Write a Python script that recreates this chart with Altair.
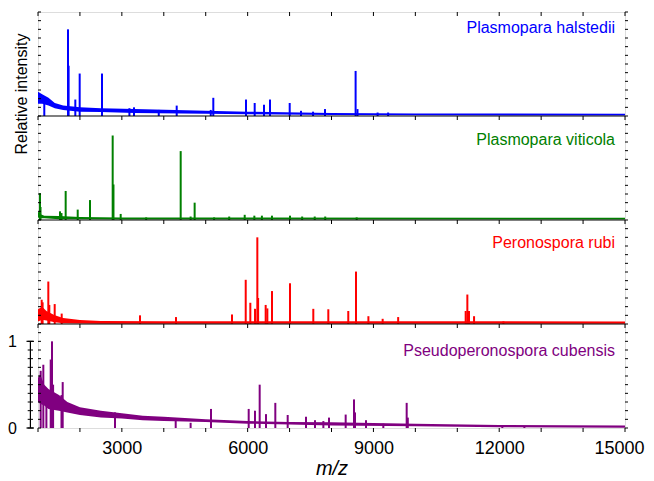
import altair as alt
import pandas as pd

# ---------------- data ----------------
species = ["Plasmopara halstedii", "Plasmopara viticola",
           "Peronospora rubi", "Pseudoperonospora cubensis"]
colors = ["#0000ff", "#008000", "#ff0000", "#800080"]

# baseline noise band: m/z, lower edge, upper edge (relative intensity)
ph_base_mz = [1000, 1100, 1250, 1400, 1600, 2000, 2500, 3300, 5000, 6000, 8000, 10000, 15000]
ph_base_lo = [0.14, 0.14, 0.12, 0.09, 0.07, 0.05, 0.045, 0.035, 0.025, 0.02, 0.012, 0.008, 0.005]
ph_base_hi = [0.28, 0.25, 0.21, 0.15, 0.12, 0.10, 0.09, 0.08, 0.06, 0.05, 0.035, 0.03, 0.025]

pv_base_mz = [1000, 1050, 1150, 1500, 2000, 3000, 5000, 15000]
pv_base_lo = [0.03, 0.02, 0.02, 0.01, 0.008, 0.005, 0.005, 0.005]
pv_base_hi = [0.10, 0.07, 0.05, 0.045, 0.035, 0.03, 0.028, 0.025]

pr_base_mz = [1000, 1100, 1200, 1400, 1600, 2000, 2500, 4000, 8000, 15000]
pr_base_lo = [0.03, 0.05, 0.04, 0.02, 0.01, 0.005, 0.003, 0.003, 0.003, 0.003]
pr_base_hi = [0.17, 0.20, 0.15, 0.10, 0.07, 0.045, 0.035, 0.033, 0.033, 0.03]

pc_base_mz = [1000, 1050, 1150, 1250, 1500, 1700, 2000, 2500, 3000, 3500, 4000, 5000,
              6000, 7000, 8000, 10000, 12000, 15000]
pc_base_lo = [0.30, 0.28, 0.26, 0.22, 0.20, 0.18, 0.15, 0.12, 0.11, 0.09, 0.08, 0.07,
              0.05, 0.04, 0.03, 0.02, 0.01, 0.003]
pc_base_hi = [0.58, 0.62, 0.50, 0.45, 0.38, 0.30, 0.24, 0.20, 0.17, 0.14, 0.13, 0.10,
              0.08, 0.07, 0.065, 0.05, 0.035, 0.028]

# peaks: m/z and relative intensity
ph_peak_mz = [1150, 1715, 1730, 1890, 1994, 2526, 3180, 3290, 3880, 4308, 5120, 5181,
              5961, 6168, 6390, 6533, 7003, 7272, 7560, 7845, 8575, 8620, 9100, 9350]
ph_peak_h = [0.22, 1.00, 0.58, 0.19, 0.49, 0.49, 0.09, 0.10, 0.07, 0.12, 0.07, 0.21,
             0.19, 0.15, 0.13, 0.19, 0.15, 0.06, 0.05, 0.08, 0.52, 0.08, 0.04, 0.04]

pv_peak_mz = [1048, 1060, 1525, 1560, 1660, 1947, 2240, 2781, 2800, 2972, 3580, 4403,
              4640, 4736, 5200, 5560, 5930, 6160, 6340, 6580, 7010, 7300, 7600, 7850, 8600]
pv_peak_h = [0.31, 0.15, 0.10, 0.08, 0.335, 0.12, 0.23, 0.975, 0.41, 0.07, 0.03, 0.795,
             0.04, 0.20, 0.03, 0.04, 0.06, 0.05, 0.05, 0.05, 0.05, 0.04, 0.04, 0.04, 0.03]

pr_peak_mz = [1088, 1110, 1246, 1270, 1398, 1565, 3433, 4291, 5627, 5954, 6064, 6176,
              6231, 6250, 6430, 6470, 6581, 7010, 7566, 7924, 8400, 8584, 8880, 9220,
              9590, 11200, 11240, 11280, 11400, 12100]
pr_peak_h = [0.28, 0.25, 0.49, 0.22, 0.23, 0.12, 0.10, 0.08, 0.11, 0.51, 0.245, 0.175,
             1.00, 0.30, 0.22, 0.18, 0.38, 0.47, 0.175, 0.17, 0.15, 0.605, 0.09, 0.06,
             0.08, 0.15, 0.34, 0.15, 0.09, 0.03]

pc_peak_mz = [1064, 1127, 1200, 1303, 1334, 1360, 1560, 1589, 2836, 4284, 4640, 5126,
              6025, 6175, 6287, 6438, 6660, 6955, 7392, 7607, 7806, 7940, 8338, 8537,
              8560, 8823, 9236, 9793, 9820, 12074, 12600]
pc_peak_h = [0.66, 0.73, 0.45, 0.79, 1.00, 0.50, 0.38, 0.53, 0.18, 0.09, 0.06, 0.22,
             0.22, 0.20, 0.50, 0.16, 0.29, 0.15, 0.13, 0.09, 0.08, 0.12, 0.155, 0.33,
             0.18, 0.09, 0.05, 0.29, 0.12, 0.03, 0.02]

x_ticks = [1000, 2000, 3000, 4000, 5000, 6000, 7000, 8000, 9000, 10000,
           11000, 12000, 13000, 14000, 15000]
x_labels = [3000, 6000, 9000, 12000, 15000]
y_ticks = [0, 0.1, 0.2, 0.3, 0.4, 0.5, 0.6, 0.7, 0.8, 0.9, 1.0, 1.1]
y_labels = [0, 1]

# ---------------- layout ----------------
W, H = 587, 416
PANEL = 1.2
NP = len(species)
PX = H / (PANEL * NP)          # pixels per intensity unit
FONT = "Liberation Sans"
label_drop_px = [21.3, 29.0, 28.3, 32.0]   # label baseline below panel top

offsets = {s: PANEL * (NP - 1 - i) for i, s in enumerate(species)}

bases = [(ph_base_mz, ph_base_lo, ph_base_hi), (pv_base_mz, pv_base_lo, pv_base_hi),
         (pr_base_mz, pr_base_lo, pr_base_hi), (pc_base_mz, pc_base_lo, pc_base_hi)]
peaks = [(ph_peak_mz, ph_peak_h), (pv_peak_mz, pv_peak_h),
         (pr_peak_mz, pr_peak_h), (pc_peak_mz, pc_peak_h)]

base_rows, peak_rows = [], []
for s, (bm, bl, bh), (pm, ph) in zip(species, bases, peaks):
    off = offsets[s]
    for m, lo, hi in zip(bm, bl, bh):
        base_rows.append({"species": s, "mz": m, "y": lo + off, "y2": hi + off})
    for m, h in zip(pm, ph):
        peak_rows.append({"species": s, "mz": m, "y": off, "y2": h + off})
base_df = pd.DataFrame(base_rows)
peak_df = pd.DataFrame(peak_rows)

label_df = pd.DataFrame({
    "species": species,
    "y": [offsets[s] + PANEL - d / PX for s, d in zip(species, label_drop_px)],
})

# frame decorations
div_df = pd.DataFrame({"y": [PANEL * k for k in range(1, NP)]})
xt_rows = []
for k in range(NP + 1):
    b = PANEL * k
    for t in x_ticks:
        xt_rows.append({"mz": t, "y": b, "y2": b - 4 / PX})
xt_df = pd.DataFrame(xt_rows)
yt_df = pd.DataFrame({"y": [PANEL * k + t for k in range(NP) for t in y_ticks] + [PANEL * NP]})
scale_df = pd.DataFrame({"y": y_ticks[:11]})
scale_major = pd.DataFrame({"y": y_labels})
scale_line = pd.DataFrame({"y": [0], "y2": [1]})

xscale = alt.Scale(domain=[1000, 15000], nice=False, zero=False)
yscale = alt.Scale(domain=[0, PANEL * NP], nice=False, zero=False)
xaxis = alt.Axis(values=x_labels, format="d", labelFontSize=18, labelFont=FONT,
                 labelColor="black", ticks=False, domain=False, grid=False,
                 labelFlush=True, labelFlushOffset=19, labelPadding=11, title="m/z",
                 titleFont=FONT, titleFontSize=20, titleFontStyle="italic",
                 titleFontWeight="normal", titleColor="black",
                 titleBaseline="alphabetic", titleY=46)
yaxis = alt.Axis(values=y_labels, format="d", labelFontSize=16, labelFont=FONT,
                 labelColor="black", ticks=False, domain=False, grid=False,
                 labelFlush=False, labelPadding=21.5, title=None)
cscale = alt.Scale(domain=species, range=colors)

X = alt.X("mz:Q", scale=xscale, axis=xaxis)
Y = alt.Y("y:Q", scale=yscale, axis=yaxis)
C = alt.Color("species:N", scale=cscale, legend=None)

band = alt.Chart(base_df).mark_area(opacity=1).encode(x=X, y=Y, y2="y2:Q", color=C)
spikes = alt.Chart(peak_df).mark_rule(strokeWidth=2).encode(x=X, y=Y, y2="y2:Q", color=C)

dividers = alt.Chart(div_df).mark_rule(color="black", strokeWidth=1.2).encode(
    x=alt.value(0), x2=alt.value(W), y=Y)
xticks = alt.Chart(xt_df).mark_rule(color="black", strokeWidth=1).encode(
    x=X, y=Y, y2="y2:Q")
lticks = alt.Chart(yt_df).mark_rule(color="black", strokeWidth=1).encode(
    x=alt.value(0), x2=alt.value(3), y=Y)
rticks = alt.Chart(yt_df).mark_rule(color="black", strokeWidth=1).encode(
    x=alt.value(W), x2=alt.value(W + 3), y=Y)
sline = alt.Chart(scale_line).mark_rule(color="black", strokeWidth=1.2).encode(
    x=alt.value(-7.6), y=Y, y2="y2:Q")
sminor = alt.Chart(scale_df).mark_rule(color="black", strokeWidth=1).encode(
    x=alt.value(-10.3), x2=alt.value(-5), y=Y)
smajor = alt.Chart(scale_major).mark_rule(color="black", strokeWidth=1.2).encode(
    x=alt.value(-11.5), x2=alt.value(-4), y=Y)

labels = alt.Chart(label_df).mark_text(align="right", baseline="alphabetic",
                                       fontSize=16, font=FONT).encode(
    x=alt.value(577), y=Y, text="species:N", color=C)

ytitle = alt.Chart(pd.DataFrame({"t": ["Relative intensity"]})).mark_text(
    angle=270, align="center", baseline="alphabetic", fontSize=16, font=FONT,
    color="black").encode(x=alt.value(-11.5), y=alt.value(82), text="t:N")

chart = alt.layer(band, spikes, dividers, xticks, lticks, rticks, sline, sminor,
                  smajor, labels, ytitle).properties(
    width=W, height=H,
    padding={"left": 30, "top": 4, "right": 21, "bottom": 49},
    autosize=alt.AutoSizeParams(type="none"),
).configure_view(stroke="black", strokeWidth=1.2).configure(background="white")

chart.save("out.html", embed_options={"renderer": "svg", "actions": False})
